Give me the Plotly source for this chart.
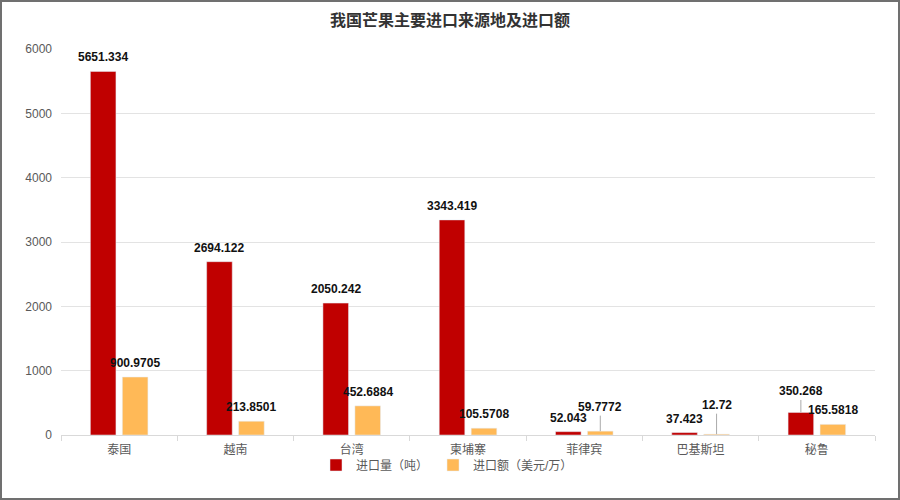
import plotly.graph_objects as go

categories = ["泰国", "越南", "台湾", "柬埔寨", "菲律宾", "巴基斯坦", "秘鲁"]
volume = [5651.334, 2694.122, 2050.242, 3343.419, 52.043, 37.423, 350.268]
amount = [900.9705, 213.8501, 452.6884, 105.5708, 59.7772, 12.72, 165.5818]
volume_labels = ["5651.334", "2694.122", "2050.242", "3343.419", "52.043", "37.423", "350.268"]
amount_labels = ["900.9705", "213.8501", "452.6884", "105.5708", "59.7772", "12.72", "165.5818"]

# 需要引导线的标签:(系列, 索引) -> 向上偏移像素
LEADERS = {("amount", 4): -24, ("amount", 5): -29, ("volume", 6): -21}

RED = "#C00000"
ORANGE = "#FFB957"
FONT = "Liberation Sans, Noto Sans CJK SC, sans-serif"

W, H = 900, 500
M = dict(l=61, r=25, t=49, b=65)

fig = go.Figure()
fig.add_trace(go.Bar(x=categories, y=volume, name="进口量（吨）", marker_color=RED))
fig.add_trace(go.Bar(x=categories, y=amount, name="进口额（美元/万）", marker_color=ORANGE))

annotations = []
for key, vals, labels, shift in (("volume", volume, volume_labels, -16),
                                 ("amount", amount, amount_labels, 16)):
    for i, (c, v, t) in enumerate(zip(categories, vals, labels)):
        a = dict(x=c, y=v, text="<b>" + t + "</b>", xshift=shift,
                 font=dict(family=FONT, size=12, color="#111111"))
        if (key, i) in LEADERS:
            a.update(showarrow=True, arrowhead=0, arrowwidth=1, arrowcolor="#AAAAAA",
                     ax=0, ay=LEADERS[(key, i)], standoff=0)
        else:
            a.update(showarrow=False, yanchor="bottom", yshift=5)
        annotations.append(a)

pw = W - M["l"] - M["r"]
ph = H - M["t"] - M["b"]

fig.update_layout(
    width=W, height=H,
    margin=M,
    paper_bgcolor="white",
    plot_bgcolor="white",
    barmode="group",
    bargap=0.45,
    bargroupgap=0.2,
    title=dict(text="<b>我国芒果主要进口来源地及进口额</b>", x=0.5, xanchor="center",
               y=1 - 20 / H, yanchor="middle",
               font=dict(family=FONT, size=16, color="#333333")),
    font=dict(family=FONT, size=12, color="#595959"),
    xaxis=dict(showline=True, linecolor="#D9D9D9", linewidth=1,
               ticks="outside", tickson="boundaries", ticklen=5, tickcolor="#D9D9D9",
               ticklabelstandoff=4,
               tickfont=dict(size=12, color="#595959")),
    yaxis=dict(range=[0, 6000], dtick=1000, showgrid=True, gridcolor="#E3E3E3",
               zeroline=False, showline=False, ticks="", ticklabelstandoff=8,
               tickfont=dict(size=12, color="#595959")),
    legend=dict(orientation="h", x=(447 - M["l"]) / pw, xanchor="center", y=-30 / ph,
                yanchor="middle", bgcolor="rgba(0,0,0,0)",
                font=dict(size=12, color="#595959"), itemwidth=30),
    annotations=annotations,
    shapes=[dict(type="rect", xref="paper", yref="paper",
                 x0=-(M["l"] - 1) / pw, x1=1 + (M["r"] - 1) / pw,
                 y0=-(M["b"] - 1) / ph, y1=1 + (M["t"] - 1) / ph,
                 line=dict(color="#707070", width=2))],
)

fig.write_html("out.html", config={"displayModeBar": False},
               post_script="document.body.style.margin='0';")
